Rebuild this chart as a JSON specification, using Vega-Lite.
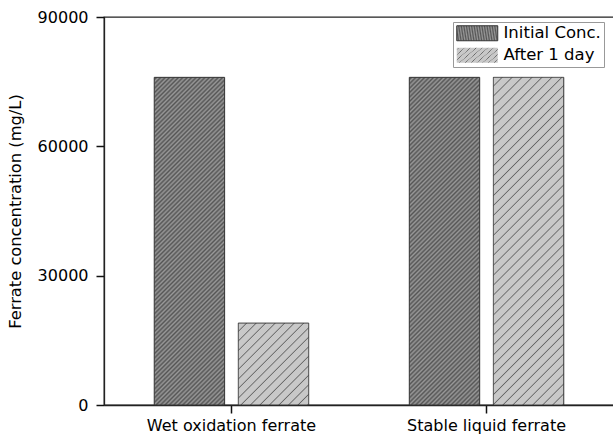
{
  "$schema": "https://vega.github.io/schema/vega-lite/v6.json",
  "autosize": "none",
  "padding": {"left": 104, "top": 17, "right": 0, "bottom": 31},
  "width": 510,
  "height": 388,
  "config": {
    "font": "DejaVu Sans",
    "view": {"stroke": "#222", "strokeWidth": 1.3},
    "axis": {"ticks": true, "tickColor": "#111", "tickWidth": 1.5, "tickOpacity": 1}
  },
  "data": {
    "values": [
      {"sample": "Wet oxidation ferrate", "series": "Initial Conc.", "conc": 76000},
      {"sample": "Wet oxidation ferrate", "series": "After 1 day", "conc": 19000},
      {"sample": "Stable liquid ferrate", "series": "Initial Conc.", "conc": 76000},
      {"sample": "Stable liquid ferrate", "series": "After 1 day", "conc": 76000}
    ]
  },
  "encoding": {
    "x": {
      "field": "sample",
      "type": "nominal",
      "sort": null,
      "scale": {"domain": ["Wet oxidation ferrate", "Stable liquid ferrate"], "paddingInner": 0.3945, "paddingOuter": 0.197},
      "axis": {
        "title": null,
        "labelAngle": 0,
        "labelFont": "DejaVu Sans",
        "labelFontSize": 16,
        "labelColor": "#000",
        "labelPadding": 4,
        "ticks": true,
        "tickSize": 8,
        "domainColor": "#222",
        "domainWidth": 1.3
      }
    },
    "xOffset": {
      "field": "series",
      "type": "nominal",
      "scale": {"domain": ["Initial Conc.", "After 1 day"], "paddingInner": 0.163, "paddingOuter": 0}
    },
    "y": {
      "field": "conc",
      "type": "quantitative",
      "scale": {"domain": [0, 90000], "nice": false},
      "axis": {
        "title": "Ferrate concentration (mg/L)",
        "titleFont": "DejaVu Sans",
        "titleFontSize": 16.3,
        "titleFontWeight": "normal",
        "titleColor": "#000",
        "titlePadding": 14,
        "values": [0, 30000, 60000, 90000],
        "format": "d",
        "labelFont": "DejaVu Sans",
        "labelFontSize": 16,
        "labelColor": "#000",
        "labelPadding": 8,
        "ticks": true,
        "tickSize": 8,
        "domainColor": "#222",
        "domainWidth": 1.3,
        "grid": false
      }
    }
  },
  "layer": [
    {
      "transform": [{"filter": "datum.series === 'Initial Conc.'"}],
      "mark": {"type": "bar", "strokeWidth": 1},
      "encoding": {
        "stroke": {
          "field": "series",
          "type": "nominal",
          "scale": {"domain": ["Initial Conc."], "range": ["#333333"]},
          "legend": {
            "title": " ",
            "titleOrient": "bottom",
            "titleFontSize": 16,
            "titlePadding": 5,
            "orient": "none",
            "legendX": 349,
            "legendY": 5,
            "padding": 3,
            "strokeColor": "#999",
            "symbolType": "M-1,-1H4.467V1H-1Z",
            "symbolSize": 225,
            "symbolStrokeWidth": 1,
            "labelFont": "DejaVu Sans",
            "labelFontSize": 16.5,
            "labelColor": "#000",
            "labelOffset": 31,
            "encode": {
              "symbols": {
                "fill": {
                  "value": {
                    "gradient": "linear", "x1": 0, "y1": 0, "x2": 1.2046, "y2": 0.4407,
                    "stops": [
                      {"offset": 0, "color": "#999"}, {"offset": 0.04167, "color": "#555"}, {"offset": 0.08333, "color": "#999"}, {"offset": 0.125, "color": "#555"}, {"offset": 0.16667, "color": "#999"}, {"offset": 0.20833, "color": "#555"}, {"offset": 0.25, "color": "#999"}, {"offset": 0.29167, "color": "#555"}, {"offset": 0.33333, "color": "#999"}, {"offset": 0.375, "color": "#555"}, {"offset": 0.41667, "color": "#999"}, {"offset": 0.45833, "color": "#555"}, {"offset": 0.5, "color": "#999"}, {"offset": 0.54167, "color": "#555"}, {"offset": 0.58333, "color": "#999"}, {"offset": 0.625, "color": "#555"}, {"offset": 0.66667, "color": "#999"}, {"offset": 0.70833, "color": "#555"}, {"offset": 0.75, "color": "#999"}, {"offset": 0.79167, "color": "#555"}, {"offset": 0.83333, "color": "#999"}, {"offset": 0.875, "color": "#555"}, {"offset": 0.91667, "color": "#999"}, {"offset": 0.95833, "color": "#555"}, {"offset": 1, "color": "#999"}
                    ]
                  }
                }
              }
            }
          }
        },
        "fill": {
          "value": {
            "gradient": "linear", "x1": 0, "y1": 0, "x2": 0.2496, "y2": 1.1613,
            "stops": [
              {"offset": 0, "color": "#999"}, {"offset": 0.00556, "color": "#555"}, {"offset": 0.01111, "color": "#999"}, {"offset": 0.01667, "color": "#555"}, {"offset": 0.02222, "color": "#999"}, {"offset": 0.02778, "color": "#555"}, {"offset": 0.03333, "color": "#999"}, {"offset": 0.03889, "color": "#555"}, {"offset": 0.04444, "color": "#999"},
              {"offset": 0.05, "color": "#555"}, {"offset": 0.05556, "color": "#999"}, {"offset": 0.06111, "color": "#555"}, {"offset": 0.06667, "color": "#999"}, {"offset": 0.07222, "color": "#555"}, {"offset": 0.07778, "color": "#999"}, {"offset": 0.08333, "color": "#555"}, {"offset": 0.08889, "color": "#999"}, {"offset": 0.09444, "color": "#555"},
              {"offset": 0.1, "color": "#999"}, {"offset": 0.10556, "color": "#555"}, {"offset": 0.11111, "color": "#999"}, {"offset": 0.11667, "color": "#555"}, {"offset": 0.12222, "color": "#999"}, {"offset": 0.12778, "color": "#555"}, {"offset": 0.13333, "color": "#999"}, {"offset": 0.13889, "color": "#555"}, {"offset": 0.14444, "color": "#999"},
              {"offset": 0.15, "color": "#555"}, {"offset": 0.15556, "color": "#999"}, {"offset": 0.16111, "color": "#555"}, {"offset": 0.16667, "color": "#999"}, {"offset": 0.17222, "color": "#555"}, {"offset": 0.17778, "color": "#999"}, {"offset": 0.18333, "color": "#555"}, {"offset": 0.18889, "color": "#999"}, {"offset": 0.19444, "color": "#555"},
              {"offset": 0.2, "color": "#999"}, {"offset": 0.20556, "color": "#555"}, {"offset": 0.21111, "color": "#999"}, {"offset": 0.21667, "color": "#555"}, {"offset": 0.22222, "color": "#999"}, {"offset": 0.22778, "color": "#555"}, {"offset": 0.23333, "color": "#999"}, {"offset": 0.23889, "color": "#555"}, {"offset": 0.24444, "color": "#999"},
              {"offset": 0.25, "color": "#555"}, {"offset": 0.25556, "color": "#999"}, {"offset": 0.26111, "color": "#555"}, {"offset": 0.26667, "color": "#999"}, {"offset": 0.27222, "color": "#555"}, {"offset": 0.27778, "color": "#999"}, {"offset": 0.28333, "color": "#555"}, {"offset": 0.28889, "color": "#999"}, {"offset": 0.29444, "color": "#555"},
              {"offset": 0.3, "color": "#999"}, {"offset": 0.30556, "color": "#555"}, {"offset": 0.31111, "color": "#999"}, {"offset": 0.31667, "color": "#555"}, {"offset": 0.32222, "color": "#999"}, {"offset": 0.32778, "color": "#555"}, {"offset": 0.33333, "color": "#999"}, {"offset": 0.33889, "color": "#555"}, {"offset": 0.34444, "color": "#999"},
              {"offset": 0.35, "color": "#555"}, {"offset": 0.35556, "color": "#999"}, {"offset": 0.36111, "color": "#555"}, {"offset": 0.36667, "color": "#999"}, {"offset": 0.37222, "color": "#555"}, {"offset": 0.37778, "color": "#999"}, {"offset": 0.38333, "color": "#555"}, {"offset": 0.38889, "color": "#999"}, {"offset": 0.39444, "color": "#555"},
              {"offset": 0.4, "color": "#999"}, {"offset": 0.40556, "color": "#555"}, {"offset": 0.41111, "color": "#999"}, {"offset": 0.41667, "color": "#555"}, {"offset": 0.42222, "color": "#999"}, {"offset": 0.42778, "color": "#555"}, {"offset": 0.43333, "color": "#999"}, {"offset": 0.43889, "color": "#555"}, {"offset": 0.44444, "color": "#999"},
              {"offset": 0.45, "color": "#555"}, {"offset": 0.45556, "color": "#999"}, {"offset": 0.46111, "color": "#555"}, {"offset": 0.46667, "color": "#999"}, {"offset": 0.47222, "color": "#555"}, {"offset": 0.47778, "color": "#999"}, {"offset": 0.48333, "color": "#555"}, {"offset": 0.48889, "color": "#999"}, {"offset": 0.49444, "color": "#555"},
              {"offset": 0.5, "color": "#999"}, {"offset": 0.50556, "color": "#555"}, {"offset": 0.51111, "color": "#999"}, {"offset": 0.51667, "color": "#555"}, {"offset": 0.52222, "color": "#999"}, {"offset": 0.52778, "color": "#555"}, {"offset": 0.53333, "color": "#999"}, {"offset": 0.53889, "color": "#555"}, {"offset": 0.54444, "color": "#999"},
              {"offset": 0.55, "color": "#555"}, {"offset": 0.55556, "color": "#999"}, {"offset": 0.56111, "color": "#555"}, {"offset": 0.56667, "color": "#999"}, {"offset": 0.57222, "color": "#555"}, {"offset": 0.57778, "color": "#999"}, {"offset": 0.58333, "color": "#555"}, {"offset": 0.58889, "color": "#999"}, {"offset": 0.59444, "color": "#555"},
              {"offset": 0.6, "color": "#999"}, {"offset": 0.60556, "color": "#555"}, {"offset": 0.61111, "color": "#999"}, {"offset": 0.61667, "color": "#555"}, {"offset": 0.62222, "color": "#999"}, {"offset": 0.62778, "color": "#555"}, {"offset": 0.63333, "color": "#999"}, {"offset": 0.63889, "color": "#555"}, {"offset": 0.64444, "color": "#999"},
              {"offset": 0.65, "color": "#555"}, {"offset": 0.65556, "color": "#999"}, {"offset": 0.66111, "color": "#555"}, {"offset": 0.66667, "color": "#999"}, {"offset": 0.67222, "color": "#555"}, {"offset": 0.67778, "color": "#999"}, {"offset": 0.68333, "color": "#555"}, {"offset": 0.68889, "color": "#999"}, {"offset": 0.69444, "color": "#555"},
              {"offset": 0.7, "color": "#999"}, {"offset": 0.70556, "color": "#555"}, {"offset": 0.71111, "color": "#999"}, {"offset": 0.71667, "color": "#555"}, {"offset": 0.72222, "color": "#999"}, {"offset": 0.72778, "color": "#555"}, {"offset": 0.73333, "color": "#999"}, {"offset": 0.73889, "color": "#555"}, {"offset": 0.74444, "color": "#999"},
              {"offset": 0.75, "color": "#555"}, {"offset": 0.75556, "color": "#999"}, {"offset": 0.76111, "color": "#555"}, {"offset": 0.76667, "color": "#999"}, {"offset": 0.77222, "color": "#555"}, {"offset": 0.77778, "color": "#999"}, {"offset": 0.78333, "color": "#555"}, {"offset": 0.78889, "color": "#999"}, {"offset": 0.79444, "color": "#555"},
              {"offset": 0.8, "color": "#999"}, {"offset": 0.80556, "color": "#555"}, {"offset": 0.81111, "color": "#999"}, {"offset": 0.81667, "color": "#555"}, {"offset": 0.82222, "color": "#999"}, {"offset": 0.82778, "color": "#555"}, {"offset": 0.83333, "color": "#999"}, {"offset": 0.83889, "color": "#555"}, {"offset": 0.84444, "color": "#999"},
              {"offset": 0.85, "color": "#555"}, {"offset": 0.85556, "color": "#999"}, {"offset": 0.86111, "color": "#555"}, {"offset": 0.86667, "color": "#999"}, {"offset": 0.87222, "color": "#555"}, {"offset": 0.87778, "color": "#999"}, {"offset": 0.88333, "color": "#555"}, {"offset": 0.88889, "color": "#999"}, {"offset": 0.89444, "color": "#555"},
              {"offset": 0.9, "color": "#999"}, {"offset": 0.90556, "color": "#555"}, {"offset": 0.91111, "color": "#999"}, {"offset": 0.91667, "color": "#555"}, {"offset": 0.92222, "color": "#999"}, {"offset": 0.92778, "color": "#555"}, {"offset": 0.93333, "color": "#999"}, {"offset": 0.93889, "color": "#555"}, {"offset": 0.94444, "color": "#999"},
              {"offset": 0.95, "color": "#555"}, {"offset": 0.95556, "color": "#999"}, {"offset": 0.96111, "color": "#555"}, {"offset": 0.96667, "color": "#999"}, {"offset": 0.97222, "color": "#555"}, {"offset": 0.97778, "color": "#999"}, {"offset": 0.98333, "color": "#555"}, {"offset": 0.98889, "color": "#999"}, {"offset": 0.99444, "color": "#555"},
              {"offset": 1, "color": "#999"}
            ]
          }
        }
      }
    },
    {
      "transform": [{"filter": "datum.series === 'After 1 day'"}],
      "mark": {"type": "bar", "stroke": "#333", "strokeWidth": 1},
      "encoding": {
        "strokeDash": {
          "field": "series",
          "type": "nominal",
          "scale": {"domain": ["After 1 day"], "range": [[1, 0]]},
          "legend": {
            "title": null,
            "orient": "none",
            "legendX": 349,
            "legendY": 27,
            "padding": 3,
            "symbolType": "M-1,-1H4.467V1H-1Z",
            "symbolSize": 225,
            "symbolStrokeColor": "#333",
            "symbolStrokeWidth": 1,
            "labelFont": "DejaVu Sans",
            "labelFontSize": 16.5,
            "labelColor": "#000",
            "labelOffset": 31,
            "encode": {
              "symbols": {
                "fill": {
                  "value": {
                    "gradient": "linear", "x1": 0, "y1": 0, "x2": 1.2046, "y2": 0.4407,
                    "stops": [
                      {"offset": 0, "color": "#c8c8c8"}, {"offset": 0.125, "color": "#c8c8c8"}, {"offset": 0.1458, "color": "#666"},
                      {"offset": 0.1667, "color": "#c8c8c8"}, {"offset": 0.2917, "color": "#c8c8c8"}, {"offset": 0.3125, "color": "#666"},
                      {"offset": 0.3333, "color": "#c8c8c8"}, {"offset": 0.4583, "color": "#c8c8c8"}, {"offset": 0.4792, "color": "#666"},
                      {"offset": 0.5, "color": "#c8c8c8"}, {"offset": 0.625, "color": "#c8c8c8"}, {"offset": 0.6458, "color": "#666"},
                      {"offset": 0.6667, "color": "#c8c8c8"}, {"offset": 0.7917, "color": "#c8c8c8"}, {"offset": 0.8125, "color": "#666"},
                      {"offset": 0.8333, "color": "#c8c8c8"}, {"offset": 0.9583, "color": "#c8c8c8"}, {"offset": 0.9792, "color": "#666"},
                      {"offset": 1, "color": "#c8c8c8"}
                    ]
                  }
                },
                "stroke": {"value": "#333"}
              }
            }
          }
        },
        "fill": {
          "condition": {
            "test": "datum.conc < 50000",
            "value": {
              "gradient": "linear", "x1": 0, "y1": 0, "x2": 0.9192, "y2": 1.0694,
              "stops": [
                {"offset": 0, "color": "#c8c8c8"}, {"offset": 0.0469, "color": "#c8c8c8"}, {"offset": 0.0547, "color": "#666"},
                {"offset": 0.0625, "color": "#c8c8c8"}, {"offset": 0.1094, "color": "#c8c8c8"}, {"offset": 0.1172, "color": "#666"},
                {"offset": 0.125, "color": "#c8c8c8"}, {"offset": 0.1719, "color": "#c8c8c8"}, {"offset": 0.1797, "color": "#666"},
                {"offset": 0.1875, "color": "#c8c8c8"}, {"offset": 0.2344, "color": "#c8c8c8"}, {"offset": 0.2422, "color": "#666"},
                {"offset": 0.25, "color": "#c8c8c8"}, {"offset": 0.2969, "color": "#c8c8c8"}, {"offset": 0.3047, "color": "#666"},
                {"offset": 0.3125, "color": "#c8c8c8"}, {"offset": 0.3594, "color": "#c8c8c8"}, {"offset": 0.3672, "color": "#666"},
                {"offset": 0.375, "color": "#c8c8c8"}, {"offset": 0.4219, "color": "#c8c8c8"}, {"offset": 0.4297, "color": "#666"},
                {"offset": 0.4375, "color": "#c8c8c8"}, {"offset": 0.4844, "color": "#c8c8c8"}, {"offset": 0.4922, "color": "#666"},
                {"offset": 0.5, "color": "#c8c8c8"}, {"offset": 0.5469, "color": "#c8c8c8"}, {"offset": 0.5547, "color": "#666"},
                {"offset": 0.5625, "color": "#c8c8c8"}, {"offset": 0.6094, "color": "#c8c8c8"}, {"offset": 0.6172, "color": "#666"},
                {"offset": 0.625, "color": "#c8c8c8"}, {"offset": 0.6719, "color": "#c8c8c8"}, {"offset": 0.6797, "color": "#666"},
                {"offset": 0.6875, "color": "#c8c8c8"}, {"offset": 0.7344, "color": "#c8c8c8"}, {"offset": 0.7422, "color": "#666"},
                {"offset": 0.75, "color": "#c8c8c8"}, {"offset": 0.7969, "color": "#c8c8c8"}, {"offset": 0.8047, "color": "#666"},
                {"offset": 0.8125, "color": "#c8c8c8"}, {"offset": 0.8594, "color": "#c8c8c8"}, {"offset": 0.8672, "color": "#666"},
                {"offset": 0.875, "color": "#c8c8c8"}, {"offset": 0.9219, "color": "#c8c8c8"}, {"offset": 0.9297, "color": "#666"},
                {"offset": 0.9375, "color": "#c8c8c8"}, {"offset": 0.9844, "color": "#c8c8c8"}, {"offset": 0.9922, "color": "#666"},
                {"offset": 1, "color": "#c8c8c8"}
              ]
            }
          },
          "value": {
            "gradient": "linear", "x1": 0, "y1": 0, "x2": 0.2496, "y2": 1.1613,
            "stops": [
              {"offset": 0, "color": "#c8c8c8"}, {"offset": 0.019, "color": "#c8c8c8"}, {"offset": 0.022, "color": "#666"},
              {"offset": 0.025, "color": "#c8c8c8"}, {"offset": 0.044, "color": "#c8c8c8"}, {"offset": 0.047, "color": "#666"},
              {"offset": 0.05, "color": "#c8c8c8"}, {"offset": 0.069, "color": "#c8c8c8"}, {"offset": 0.072, "color": "#666"},
              {"offset": 0.075, "color": "#c8c8c8"}, {"offset": 0.094, "color": "#c8c8c8"}, {"offset": 0.097, "color": "#666"},
              {"offset": 0.1, "color": "#c8c8c8"}, {"offset": 0.119, "color": "#c8c8c8"}, {"offset": 0.122, "color": "#666"},
              {"offset": 0.125, "color": "#c8c8c8"}, {"offset": 0.144, "color": "#c8c8c8"}, {"offset": 0.147, "color": "#666"},
              {"offset": 0.15, "color": "#c8c8c8"}, {"offset": 0.169, "color": "#c8c8c8"}, {"offset": 0.172, "color": "#666"},
              {"offset": 0.175, "color": "#c8c8c8"}, {"offset": 0.194, "color": "#c8c8c8"}, {"offset": 0.197, "color": "#666"},
              {"offset": 0.2, "color": "#c8c8c8"}, {"offset": 0.219, "color": "#c8c8c8"}, {"offset": 0.222, "color": "#666"},
              {"offset": 0.225, "color": "#c8c8c8"}, {"offset": 0.244, "color": "#c8c8c8"}, {"offset": 0.247, "color": "#666"},
              {"offset": 0.25, "color": "#c8c8c8"}, {"offset": 0.269, "color": "#c8c8c8"}, {"offset": 0.272, "color": "#666"},
              {"offset": 0.275, "color": "#c8c8c8"}, {"offset": 0.294, "color": "#c8c8c8"}, {"offset": 0.297, "color": "#666"},
              {"offset": 0.3, "color": "#c8c8c8"}, {"offset": 0.319, "color": "#c8c8c8"}, {"offset": 0.322, "color": "#666"},
              {"offset": 0.325, "color": "#c8c8c8"}, {"offset": 0.344, "color": "#c8c8c8"}, {"offset": 0.347, "color": "#666"},
              {"offset": 0.35, "color": "#c8c8c8"}, {"offset": 0.369, "color": "#c8c8c8"}, {"offset": 0.372, "color": "#666"},
              {"offset": 0.375, "color": "#c8c8c8"}, {"offset": 0.394, "color": "#c8c8c8"}, {"offset": 0.397, "color": "#666"},
              {"offset": 0.4, "color": "#c8c8c8"}, {"offset": 0.419, "color": "#c8c8c8"}, {"offset": 0.422, "color": "#666"},
              {"offset": 0.425, "color": "#c8c8c8"}, {"offset": 0.444, "color": "#c8c8c8"}, {"offset": 0.447, "color": "#666"},
              {"offset": 0.45, "color": "#c8c8c8"}, {"offset": 0.469, "color": "#c8c8c8"}, {"offset": 0.472, "color": "#666"},
              {"offset": 0.475, "color": "#c8c8c8"}, {"offset": 0.494, "color": "#c8c8c8"}, {"offset": 0.497, "color": "#666"},
              {"offset": 0.5, "color": "#c8c8c8"}, {"offset": 0.519, "color": "#c8c8c8"}, {"offset": 0.522, "color": "#666"},
              {"offset": 0.525, "color": "#c8c8c8"}, {"offset": 0.544, "color": "#c8c8c8"}, {"offset": 0.547, "color": "#666"},
              {"offset": 0.55, "color": "#c8c8c8"}, {"offset": 0.569, "color": "#c8c8c8"}, {"offset": 0.572, "color": "#666"},
              {"offset": 0.575, "color": "#c8c8c8"}, {"offset": 0.594, "color": "#c8c8c8"}, {"offset": 0.597, "color": "#666"},
              {"offset": 0.6, "color": "#c8c8c8"}, {"offset": 0.619, "color": "#c8c8c8"}, {"offset": 0.622, "color": "#666"},
              {"offset": 0.625, "color": "#c8c8c8"}, {"offset": 0.644, "color": "#c8c8c8"}, {"offset": 0.647, "color": "#666"},
              {"offset": 0.65, "color": "#c8c8c8"}, {"offset": 0.669, "color": "#c8c8c8"}, {"offset": 0.672, "color": "#666"},
              {"offset": 0.675, "color": "#c8c8c8"}, {"offset": 0.694, "color": "#c8c8c8"}, {"offset": 0.697, "color": "#666"},
              {"offset": 0.7, "color": "#c8c8c8"}, {"offset": 0.719, "color": "#c8c8c8"}, {"offset": 0.722, "color": "#666"},
              {"offset": 0.725, "color": "#c8c8c8"}, {"offset": 0.744, "color": "#c8c8c8"}, {"offset": 0.747, "color": "#666"},
              {"offset": 0.75, "color": "#c8c8c8"}, {"offset": 0.769, "color": "#c8c8c8"}, {"offset": 0.772, "color": "#666"},
              {"offset": 0.775, "color": "#c8c8c8"}, {"offset": 0.794, "color": "#c8c8c8"}, {"offset": 0.797, "color": "#666"},
              {"offset": 0.8, "color": "#c8c8c8"}, {"offset": 0.819, "color": "#c8c8c8"}, {"offset": 0.822, "color": "#666"},
              {"offset": 0.825, "color": "#c8c8c8"}, {"offset": 0.844, "color": "#c8c8c8"}, {"offset": 0.847, "color": "#666"},
              {"offset": 0.85, "color": "#c8c8c8"}, {"offset": 0.869, "color": "#c8c8c8"}, {"offset": 0.872, "color": "#666"},
              {"offset": 0.875, "color": "#c8c8c8"}, {"offset": 0.894, "color": "#c8c8c8"}, {"offset": 0.897, "color": "#666"},
              {"offset": 0.9, "color": "#c8c8c8"}, {"offset": 0.919, "color": "#c8c8c8"}, {"offset": 0.922, "color": "#666"},
              {"offset": 0.925, "color": "#c8c8c8"}, {"offset": 0.944, "color": "#c8c8c8"}, {"offset": 0.947, "color": "#666"},
              {"offset": 0.95, "color": "#c8c8c8"}, {"offset": 0.969, "color": "#c8c8c8"}, {"offset": 0.972, "color": "#666"},
              {"offset": 0.975, "color": "#c8c8c8"}, {"offset": 0.994, "color": "#c8c8c8"}, {"offset": 0.997, "color": "#666"},
              {"offset": 1, "color": "#c8c8c8"}
            ]
          }
        }
      }
    }
  ]
}
